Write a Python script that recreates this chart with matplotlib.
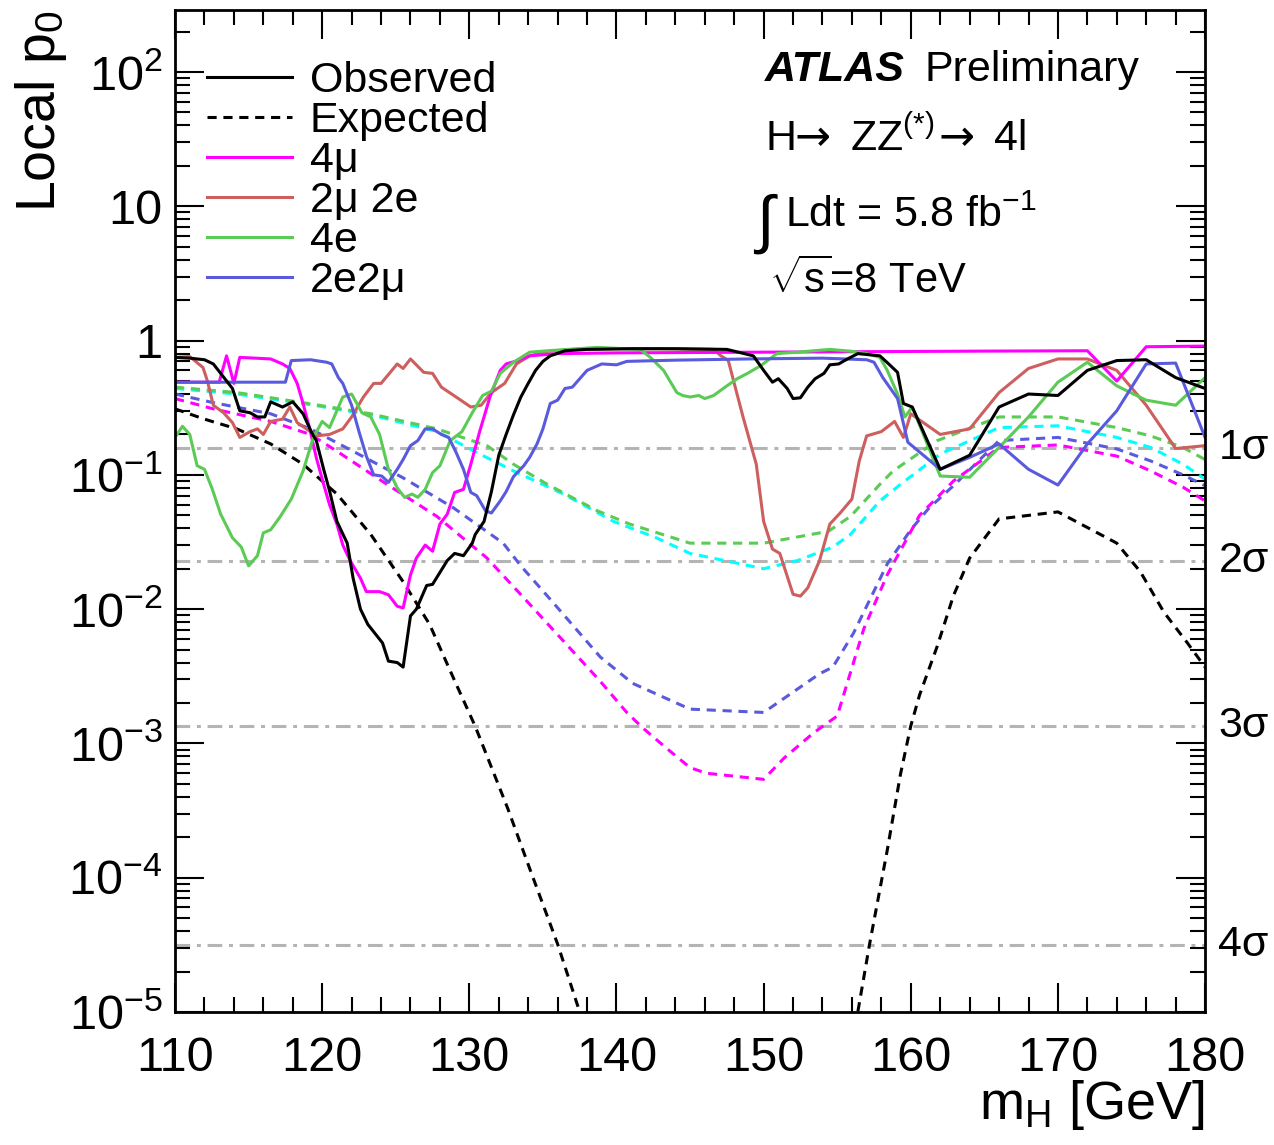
#!/usr/bin/env python3
"""Local p0 versus m_H for H -> ZZ(*) -> 4l, split by final-state channel."""

import numpy as np
import matplotlib

matplotlib.use("Agg")
import matplotlib.pyplot as plt
from matplotlib.lines import Line2D
from matplotlib.ticker import (FixedFormatter, FixedLocator, LogLocator,
                               MultipleLocator, NullFormatter)

nan = np.nan

# --- observed, all channels combined
OBS_M = [110, 111, 112, 112.6, 113.1, 113.9, 114.4, 115.1, 115.6, 116.1,
         116.5, 117.3, 118.0, 118.7, 119.3, 119.6, 120.1, 120.5, 121.0, 121.7,
         122.1, 122.6, 123.1, 124.1, 124.5, 125.1, 125.5, 126.0, 126.4, 127.1,
         127.5, 128.5, 129.0, 129.6, 130.2, 130.4, 131.0, 131.5, 132.0, 132.5,
         133.0, 133.5, 134.0, 134.5, 135.0, 135.5, 136.5, 138, 141, 144,
         147.5, 149.3, 150.0, 150.6, 151.0, 151.6, 152.0, 152.5, 153.0, 153.5,
         154.1, 154.5, 155.1, 155.7, 156.4, 157.9, 158.5, 159.1, 159.5, 160.1,
         162, 164, 166, 168, 170, 172, 174, 176, 178, 180]
OBS_P = [0.75, 0.74, 0.72, 0.67, 0.57, 0.44, 0.30, 0.29, 0.27, 0.27,
         0.35, 0.32, 0.35, 0.285, 0.205, 0.18, 0.11, 0.076, 0.045, 0.031,
         0.017, 0.010, 0.0077, 0.0056, 0.0041, 0.0040, 0.0037, 0.0089, 0.010, 0.015,
         0.0153, 0.023, 0.026, 0.025, 0.031, 0.036, 0.045, 0.075, 0.14, 0.20,
         0.28, 0.38, 0.48, 0.60, 0.70, 0.77, 0.84, 0.86, 0.87, 0.87,
         0.86, 0.77, 0.60, 0.49, 0.52, 0.44, 0.37, 0.375, 0.45, 0.52,
         0.57, 0.66, 0.67, 0.73, 0.80, 0.77, 0.67, 0.58, 0.34, 0.32,
         0.11, 0.14, 0.32, 0.40, 0.39, 0.60, 0.71, 0.72, 0.53, 0.44]

# --- expected, all channels combined (leaves the plot below 1e-5 in the middle)
EXP_M = [110, 112, 114.2, 116.5, 118.7, 121, 123.3, 125.5, 127.3, 128.9,
         130.4, 132.6, 134.1, 136, 137.5, 138.2, nan, 155.8, 156.4, 157.2,
         158.4, 159.3, 160, 160.6, 161.8, 162.9, 164, 166, 170, 174,
         175.6, 177.2, 178.8, 180]
EXP_P = [0.31, 0.26, 0.22, 0.17, 0.12, 0.072, 0.036, 0.016, 0.0077, 0.0031,
         0.00134, 3.3e-4, 1.17e-4, 3.2e-5, 1.0e-5, 6e-6, nan, 6e-6, 1e-5, 3.2e-5,
         1.6e-4, 5.9e-4, 1.35e-3, 2.3e-3, 5.3e-3, 0.0126, 0.024, 0.047, 0.053, 0.031,
         0.019, 0.0095, 0.0056, 0.0037]

# --- observed per channel
M4MU_M = [110, 113.0, 113.5, 114.0, 114.4, 116.5, 117.3, 117.8, 118.3, 118.7,
          119.2, 119.6, 120.1, 120.5, 121.0, 121.4, 121.9, 122.6, 123.0, 123.9,
          124.5, 125.1, 125.5, 126.0, 126.4, 127.0, 127.5, 128.0, 128.5, 129.0,
          129.6, 130.1, 130.7, 131.4, 132.1, 132.5, 133.3, 134.1, 136, 140,
          145, 150, 155, 160, 165, 172, 174, 176, 180]
M4MU_P = [0.49, 0.49, 0.77, 0.48, 0.75, 0.73, 0.67, 0.62, 0.48, 0.34,
          0.21, 0.134, 0.085, 0.06, 0.043, 0.030, 0.023, 0.017, 0.0135, 0.0135,
          0.0128, 0.0105, 0.0102, 0.018, 0.024, 0.030, 0.027, 0.043, 0.051, 0.074,
          0.078, 0.12, 0.21, 0.38, 0.60, 0.67, 0.71, 0.77, 0.80, 0.81,
          0.815, 0.82, 0.825, 0.83, 0.835, 0.84, 0.50, 0.90, 0.91]

M2MU2E_M = [110, 111, 111.9, 112.2, 112.6, 113.3, 113.9, 114.4, 115.1, 115.6,
            116.0, 116.5, 117.3, 117.8, 118.3, 119.2, 119.6, 120.5, 121.4, 122.0,
            122.8, 123.5, 124.0, 125.1, 125.5, 126.0, 126.9, 127.5, 128.1, 129.1,
            130.1, 130.8, 131.5, 132.4, 133.2, 134.1, 135.3, 137, 140, 143,
            146.6, 147.1, 147.6, 147.9, 148.6, 149.5, 150.0, 150.6, 151.1, 152.0,
            152.5, 153.0, 153.8, 154.5, 155.2, 156.0, 156.5, 157.0, 158.0, 158.9,
            159.5, 160.0, 162, 164, 166, 168, 170, 172, 174, 176,
            178, 180]
M2MU2E_P = [0.75, 0.76, 0.63, 0.50, 0.33, 0.29, 0.245, 0.19, 0.21, 0.22,
            0.20, 0.25, 0.26, 0.32, 0.245, 0.21, 0.195, 0.20, 0.22, 0.27,
            0.38, 0.48, 0.48, 0.67, 0.62, 0.73, 0.58, 0.57, 0.45, 0.38,
            0.32, 0.33, 0.41, 0.48, 0.67, 0.77, 0.83, 0.86, 0.87, 0.87,
            0.86, 0.77, 0.71, 0.53, 0.27, 0.12, 0.045, 0.028, 0.026, 0.0129,
            0.0125, 0.0144, 0.023, 0.043, 0.052, 0.066, 0.127, 0.195, 0.21, 0.25,
            0.19, 0.285, 0.20, 0.22, 0.41, 0.62, 0.73, 0.73, 0.60, 0.33,
            0.157, 0.165]

M4E_M = [110, 110.5, 111.0, 111.5, 112.0, 112.5, 113.1, 113.9, 114.5, 115.0,
         115.6, 116.0, 116.5, 117.1, 117.9, 118.7, 119.4, 120.0, 120.5, 121.4,
         122.0, 122.7, 123.3, 123.9, 124.5, 125.1, 125.6, 126.1, 126.5, 127.0,
         127.5, 128.0, 128.7, 129.5, 130.2, 130.9, 131.5, 132.1, 133.0, 134.1,
         135.3, 138.7, 141.6, 142.3, 143.2, 144.1, 144.5, 145.0, 145.6, 146.0,
         146.6, 147.5, 148.2, 148.9, 149.8, 150.9, 152.3, 154.5, 156.1, 157.0,
         157.9, 158.4, 159.1, 159.6, 160.1, 162, 164, 166, 168, 170,
         172, 174, 176, 178, 180]
M4E_P = [0.19, 0.23, 0.20, 0.117, 0.11, 0.08, 0.051, 0.034, 0.029, 0.021,
         0.025, 0.037, 0.039, 0.048, 0.066, 0.107, 0.19, 0.25, 0.225, 0.38,
         0.40, 0.29, 0.27, 0.20, 0.11, 0.08, 0.068, 0.072, 0.068, 0.078,
         0.104, 0.117, 0.18, 0.21, 0.29, 0.39, 0.42, 0.57, 0.69, 0.82,
         0.84, 0.89, 0.86, 0.75, 0.60, 0.41, 0.39, 0.38, 0.39, 0.37,
         0.39, 0.46, 0.52, 0.57, 0.65, 0.80, 0.82, 0.86, 0.83, 0.80,
         0.75, 0.60, 0.40, 0.27, 0.32, 0.098, 0.096, 0.16, 0.27, 0.49,
         0.69, 0.46, 0.36, 0.33, 0.53]

M2E2MU_M = [110, 117.5, 117.9, 119.2, 120.3, 120.65, 121.1, 121.4, 122.0, 122.5,
            123.0, 123.5, 124.05, 124.5, 125.1, 125.5, 126.0, 126.5, 127.0, 127.5,
            128.1, 128.6, 129.1, 129.6, 130.1, 130.5, 131.1, 131.5, 132.1, 132.5,
            133.0, 133.7, 134.1, 134.6, 135.0, 135.5, 136.0, 136.5, 137.0, 138.0,
            139.0, 140.0, 140.7, 144, 149, 154, 157.0, 157.5, 158.1, 159.1,
            159.8, 162, 164, 166, 168, 170, 172, 174, 176, 178,
            180]
M2E2MU_P = [0.49, 0.49, 0.71, 0.72, 0.69, 0.67, 0.53, 0.48, 0.33, 0.21,
            0.138, 0.10, 0.098, 0.088, 0.11, 0.13, 0.165, 0.18, 0.22, 0.22,
            0.20, 0.19, 0.147, 0.11, 0.074, 0.07, 0.054, 0.052, 0.064, 0.075,
            0.097, 0.117, 0.135, 0.17, 0.22, 0.34, 0.36, 0.44, 0.45, 0.60,
            0.67, 0.66, 0.70, 0.715, 0.73, 0.74, 0.72, 0.69, 0.53, 0.37,
            0.175, 0.11, 0.135, 0.17, 0.11, 0.084, 0.17, 0.30, 0.67, 0.68,
            0.19]

# --- expected per channel
E4MU_M = [110, 112.6, 116.5, 119.2, 121.0, 124.4, 127.8, 131.2, 133.9, 138.9,
          140.7, 141.8, 143.4, 145, 146.1, 150, 151.4, 153.4, 155.0, 156.8,
          158.4, 160.6, 162.9, 166, 170, 174, 176.3, 178.5, 180]
E4MU_P = [0.37, 0.31, 0.25, 0.20, 0.15, 0.085, 0.049, 0.024, 0.0115, 0.0029,
          0.0017, 0.0013, 9.2e-4, 6.6e-4, 6.0e-4, 5.4e-4, 7.8e-4, 0.0012, 0.0016, 0.0071,
          0.018, 0.05, 0.09, 0.16, 0.167, 0.138, 0.107, 0.081, 0.064]

E2E2MU_M = [110, 112.6, 116.5, 119.2, 122.1, 125.5, 128.9, 132.3, 133.5, 135.6,
            138.9, 141.1, 145, 150, 153.8, 154.7, 156.1, 158.4, 160, 161.2,
            163, 166, 170, 174, 176.3, 178.5, 180]
E2E2MU_P = [0.40, 0.345, 0.285, 0.22, 0.15, 0.095, 0.057, 0.031, 0.021, 0.0115,
            0.0044, 0.0028, 0.0018, 0.0017, 0.0033, 0.0037, 0.0066, 0.0217, 0.039, 0.056,
            0.085, 0.18, 0.19, 0.156, 0.127, 0.10, 0.083]

E4E_M = [110, 114.2, 118.7, 123.3, 127.8, 131.2, 133.0, 135.3, 138.7, 140.9,
         145, 150, 154.4, 155.9, 157.9, 158.8, 161.8, 166, 170, 174,
         176.3, 178.5, 180]
E4E_P = [0.45, 0.41, 0.345, 0.285, 0.22, 0.165, 0.12, 0.085, 0.054, 0.043,
         0.031, 0.031, 0.038, 0.049, 0.085, 0.107, 0.18, 0.27, 0.27, 0.225,
         0.195, 0.16, 0.13]

E2MU2E_M = [110, 114.2, 118.7, 123.3, 127.8, 130.7, 133.0, 136.4, 139.8, 142.7,
            145, 150, 152.3, 154.7, 155.9, 157.9, 159.3, 162, 166, 170,
            174, 176.3, 178.5, 180]
E2MU2E_P = [0.44, 0.40, 0.34, 0.28, 0.21, 0.143, 0.107, 0.072, 0.045, 0.034,
            0.026, 0.020, 0.023, 0.029, 0.036, 0.064, 0.085, 0.143, 0.225, 0.232,
            0.19, 0.16, 0.12, 0.093]

# one-sided p0 for 1..4 sigma
SIGMA_P = [0.1587, 0.02275, 0.00135, 3.167e-5]
SIGMA_LABELS = ["1σ", "2σ", "3σ", "4σ"]

Y_TICKS = [1e-5, 1e-4, 1e-3, 1e-2, 1e-1, 1, 10, 100]
Y_TICK_LABELS = ["$10^{-5}$", "$10^{-4}$", "$10^{-3}$", "$10^{-2}$",
                 "$10^{-1}$", "1", "10", "$10^{2}$"]

LEGEND_LABELS = ["Observed", "Expected", "4μ", "2μ 2e", "4e", "2e2μ"]

MAGENTA = "#ff00ff"
RED = "#cd5f5f"
GREEN = "#5bcb55"
BLUE = "#5a5add"
CYAN = "#00ffff"

plt.rcParams["font.family"] = ["Liberation Sans", "DejaVu Sans"]
plt.rcParams["mathtext.fontset"] = "custom"
plt.rcParams["mathtext.rm"] = "Liberation Sans"
plt.rcParams["mathtext.it"] = "Liberation Sans:italic"
plt.rcParams["mathtext.bf"] = "Liberation Sans:bold"

LW = 2.2
DASH = (0, (3.0, 2.2))

fig = plt.figure(figsize=(12.74, 11.45), dpi=100)
ax = fig.add_axes([0.1374, 0.1162, 0.8085, 0.8751])
ax.set_yscale("log")

for p in SIGMA_P:
    ax.axhline(p, color="#b4b4b4", lw=2.2, ls=(0, (4.8, 2.2, 1.3, 2.2)), zorder=1)

# expected curves (dashed)
ax.plot(E2MU2E_M, E2MU2E_P, color=CYAN, lw=LW, ls=DASH)
ax.plot(E4E_M, E4E_P, color=GREEN, lw=LW, ls=DASH)
ax.plot(E2E2MU_M, E2E2MU_P, color=BLUE, lw=LW, ls=DASH)
ax.plot(E4MU_M, E4MU_P, color=MAGENTA, lw=LW, ls=DASH)
ax.plot(EXP_M, EXP_P, color="black", lw=LW, ls=DASH)

# observed curves
ax.plot(M2MU2E_M, M2MU2E_P, color=RED, lw=LW)
ax.plot(M4MU_M, M4MU_P, color=MAGENTA, lw=LW)
ax.plot(M4E_M, M4E_P, color=GREEN, lw=LW)
ax.plot(M2E2MU_M, M2E2MU_P, color=BLUE, lw=LW)
ax.plot(OBS_M, OBS_P, color="black", lw=LW)

ax.set_xlim(110, 180)
ax.set_ylim(1e-5, 290)

ax.xaxis.set_major_locator(MultipleLocator(10))
ax.xaxis.set_minor_locator(MultipleLocator(2))
ax.yaxis.set_major_locator(FixedLocator(Y_TICKS))
ax.yaxis.set_major_formatter(FixedFormatter(Y_TICK_LABELS))
ax.yaxis.set_minor_locator(LogLocator(base=10, subs=range(2, 10), numticks=30))
ax.yaxis.set_minor_formatter(NullFormatter())

ax.tick_params(which="both", direction="in", top=True, right=True, width=1.5)
ax.tick_params(which="major", length=21)
ax.tick_params(which="minor", length=11)
ax.tick_params(axis="x", labelsize=35, pad=17)
ax.tick_params(axis="y", labelsize=35, pad=9)
for s in ax.spines.values():
    s.set_linewidth(2)

ax.set_xlabel("m$_{\\mathrm{H}}$ [GeV]", loc="right", fontsize=39)
ax.xaxis.set_label_coords(1.0, -0.066)
ax.set_ylabel("Local p$_{0}$", loc="top", fontsize=40)
ax.yaxis.set_label_coords(-0.103, 1.0)

# sigma labels outside right edge
ytr = ax.get_yaxis_transform()
for p, lab in zip(SIGMA_P, SIGMA_LABELS):
    ax.text(1.013, p, lab, transform=ytr, ha="left", va="center", fontsize=31)

handles = [
    Line2D([], [], color="black", lw=LW),
    Line2D([], [], color="black", lw=LW, ls=DASH),
    Line2D([], [], color=MAGENTA, lw=LW),
    Line2D([], [], color=RED, lw=LW),
    Line2D([], [], color=GREEN, lw=LW),
    Line2D([], [], color=BLUE, lw=LW),
]
ax.legend(handles, LEGEND_LABELS, loc="upper left", bbox_to_anchor=(0.031, 0.949),
          frameon=False, fontsize=31, handlelength=1.97, handletextpad=0.42,
          labelspacing=0.0, borderpad=0, borderaxespad=0)

tr = ax.transAxes
ax.text(0.573, 0.929, "ATLAS", transform=tr, fontsize=31, fontweight="bold",
        fontstyle="italic", va="baseline")
ax.text(0.728, 0.929, "Preliminary", transform=tr, fontsize=31, va="baseline")

# H -> ZZ(*) -> 4l, arrows taken from DejaVu Sans (longer shaft)
ax.text(0.573, 0.860, "H", transform=tr, fontsize=31, va="baseline")
ax.text(0.601, 0.860, "→", transform=tr, fontsize=31, va="baseline",
        family="DejaVu Sans")
ax.text(0.655, 0.860, "ZZ$^{(*)}$", transform=tr, fontsize=31, va="baseline")
ax.text(0.741, 0.860, "→", transform=tr, fontsize=31, va="baseline",
        family="DejaVu Sans")
ax.text(0.795, 0.860, "4l", transform=tr, fontsize=31, va="baseline")

ax.text(0.564, 0.770, "∫", transform=tr, fontsize=46, va="baseline")
ax.text(0.592, 0.783, "Ldt = 5.8 fb$^{-1}$", transform=tr, fontsize=31, va="baseline")
ax.text(0.577, 0.718, "$\\sqrt{\\mathrm{s}}$=8 TeV", transform=tr, fontsize=30,
        va="baseline")

fig.savefig("out.png", dpi=100)
